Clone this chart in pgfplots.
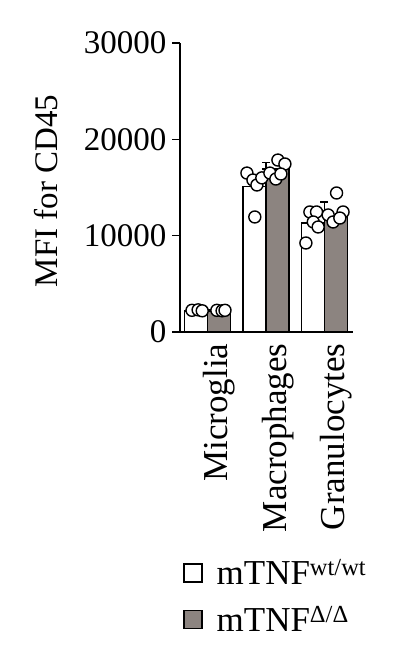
\documentclass[border=0pt]{standalone}
\usepackage{fontspec}
\setmainfont{Liberation Serif}
\usepackage{pgfplots}
\pgfplotsset{compat=1.18}
\definecolor{kogray}{RGB}{140,132,128}

\newcommand{\bigfont}{\fontsize{33}{35}\selectfont}
\newcommand{\catfont}{\fontsize{35}{37}\selectfont}

\begin{document}
\begin{tikzpicture}
\useasboundingbox (0,0) rectangle (409pt,660pt);
\begin{axis}[
    at={(180pt,328pt)}, anchor=south west,
    width=173pt, height=289pt, scale only axis,
    xmin=-0.47, xmax=2.49,
    ymin=0, ymax=30000,
    axis lines=left,
    axis line style={-, line width=1.6pt},
    ytick={0,10000,20000,30000},
    scaled y ticks=false,
    yticklabel style={/pgf/number format/1000 sep={}, font=\bigfont, xshift=-2pt},
    /pgf/number format/assume math mode=true,
    tick align=outside,
    major tick length=8pt,
    tick style={line width=1.6pt, black},
    ytick pos=left,
    xtick={0,1,2},
    xticklabels={Microglia,Macrophages,Granulocytes},
    x tick style={draw=none},
    xticklabel style={font=\catfont, xshift=12pt, rotate=90, anchor=east},
    ylabel={MFI for CD45},
    ylabel style={font=\bigfont, at={(axis description cs:-0.775,0.488)}, anchor=center},
    legend style={at={(axis description cs:0.017,-0.78)}, anchor=north west,
        draw=none, fill=none, font=\catfont, inner sep=0pt,
        row sep=16pt, cells={anchor=west}},
    legend image code/.code={\draw[#1, line width=1.4pt] (0pt,-9pt) rectangle (18pt,9pt); \path (30pt,0pt);},
]
% bars with mean + SD
\addplot[ybar, bar width=23pt, bar shift=-11.5pt, draw=black, fill=white, line width=1.6pt,
    error bars/.cd, y dir=plus, y explicit,
    error bar style={line width=1.4pt, black},
    error mark options={rotate=90, mark size=4pt, line width=1.4pt}]
    coordinates {(0,2150) +- (0,150) (1,15100) +- (0,1800) (2,11300) +- (0,1200)};
\addlegendentry{mTNF\textsuperscript{wt/wt}}
\addplot[ybar, bar width=23pt, bar shift=11.5pt, draw=black, fill=kogray, line width=1.6pt,
    error bars/.cd, y dir=plus, y explicit,
    error bar style={line width=1.4pt, black},
    error mark options={rotate=90, mark size=4pt, line width=1.4pt}]
    coordinates {(0,2150) +- (0,150) (1,16900) +- (0,700) (2,12200) +- (0,1300)};
\addlegendentry{mTNF\textsuperscript{Δ/Δ}}
% individual animals
\addplot[only marks, mark=*, mark size=6pt, mark options={fill=white, draw=black, line width=1.4pt}, forget plot]
    coordinates {
    (-0.265,2250) (-0.16,2300) (-0.09,2200)
    (0.16,2250) (0.25,2200) (0.30,2250)
    (0.675,16500) (0.778,15780) (0.846,15260) (0.93,16000) (0.81,11940)
    (1.068,16500) (1.205,17850) (1.325,17440) (1.17,15880) (1.256,16400)
    (1.684,9240) (1.752,12460) (1.866,12460) (1.81,11420) (1.894,10900)
    (2.209,14430) (2.065,12150) (2.15,11420) (2.32,12460) (2.265,11830)
    };
\end{axis}
\end{tikzpicture}
\end{document}
